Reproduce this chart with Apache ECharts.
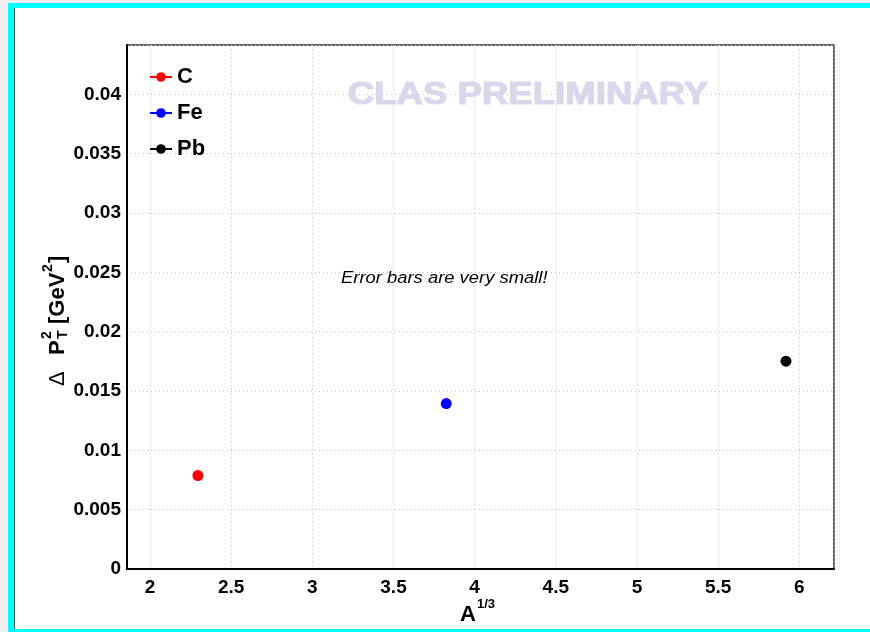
<!DOCTYPE html>
<html>
<head>
<meta charset="utf-8">
<script src="https://cdn.jsdelivr.net/npm/echarts@6/dist/echarts.min.js"></script>
<style>
  html, body { margin: 0; padding: 0; width: 870px; height: 632px; background: #efefef; overflow: hidden; }
  #frame { position: absolute; left: 8px; top: 3px; width: 862px; height: 629px; background: #00ffff; }
  #canvas-bg { position: absolute; left: 6px; top: 5px; right: 0; bottom: 3px; background: #ffffff; border-left: 1px solid #555; }
  #chart { position: absolute; left: 0; top: 0; width: 870px; height: 632px; }
</style>
</head>
<body>
<div id="frame"><div id="canvas-bg"></div></div>
<div id="chart"></div>
<script>
// Nuclear targets and measured transverse-momentum broadening
const targets = ['C', 'Fe', 'Pb'];
const aOneThird = [2.295, 3.825, 5.918];        // A^(1/3)
const deltaPt2 = [0.00788, 0.01394, 0.01751];   // ΔP_T^2 [GeV^2]
const deltaPt2Err = [0.00005, 0.00008, 0.00018];
const targetColors = ['#ff0000', '#0000ff', '#000000'];

const SANS = '"Liberation Sans", Arial, sans-serif';
const chart = echarts.init(document.getElementById('chart'), null, { renderer: 'canvas' });

const pointSeries = targets.map((name, i) => ({
  name: name,
  type: 'line',
  data: [[aOneThird[i], deltaPt2[i]]],
  symbol: 'circle',
  symbolSize: 11,
  showSymbol: true,
  itemStyle: { color: targetColors[i] },
  lineStyle: { color: targetColors[i], width: 2 },
  z: 5
}));

// Vertical error bars (tiny compared with the markers)
const errorSeries = {
  type: 'custom',
  silent: true,
  data: targets.map((_, i) => [aOneThird[i], deltaPt2[i] - deltaPt2Err[i], deltaPt2[i] + deltaPt2Err[i], i]),
  renderItem: function (params, api) {
    const lo = api.coord([api.value(0), api.value(1)]);
    const hi = api.coord([api.value(0), api.value(2)]);
    const c = targetColors[api.value(3)];
    return {
      type: 'line',
      shape: { x1: lo[0], y1: lo[1], x2: hi[0], y2: hi[1] },
      style: { stroke: c, lineWidth: 2 }
    };
  },
  z: 4
};

const txt = (x, y, text, font, extra) => Object.assign({
  type: 'text', x: x, y: y,
  style: { text: text, fill: '#000', font: font, align: 'left', verticalAlign: 'middle' }
}, extra || {});

const option = {
  animation: false,
  backgroundColor: 'transparent',
  grid: {
    left: 127, right: 36, top: 45, bottom: 63,
    show: true, borderColor: '#666', borderWidth: 2, backgroundColor: 'transparent'
  },
  legend: {
    orient: 'vertical',
    left: 149, top: 66, padding: 0,
    itemWidth: 22, itemHeight: 12, itemGap: 14,
    data: targets,
    textStyle: { fontFamily: SANS, fontWeight: 'bold', fontSize: 22, color: '#000', lineHeight: 22 }
  },
  xAxis: {
    type: 'value',
    min: 1.858, max: 6.214,
    splitNumber: 9,
    axisLine: { show: true, lineStyle: { color: '#000', width: 2 } },
    axisTick: { show: false },
    axisLabel: {
      showMinLabel: false, showMaxLabel: false,
      fontFamily: SANS, fontWeight: 'bold', fontSize: 19, color: '#000', margin: 9
    },
    splitLine: { show: true, lineStyle: { color: '#c4c4c4', width: 1, type: [1, 3] } }
  },
  yAxis: {
    type: 'value',
    min: 0, max: 0.04416, interval: 0.005,
    axisLine: { show: true, lineStyle: { color: '#000', width: 2 } },
    axisTick: { show: false },
    axisLabel: {
      showMaxLabel: false,
      fontFamily: SANS, fontWeight: 'bold', fontSize: 19, color: '#000', margin: 6,
      formatter: v => (v === 0 ? '0' : String(+v.toFixed(3)))
    },
    splitLine: { show: true, lineStyle: { color: '#c4c4c4', width: 1, type: [1, 3] } }
  },
  graphic: [
    {
      type: 'text', x: 528, y: 95, z: 1, scaleX: 1.18,
      style: {
        text: 'CLAS PRELIMINARY', fill: '#dcd6ec', stroke: '#dcd6ec', lineWidth: 1.2,
        font: 'bold 31px ' + SANS, align: 'center', verticalAlign: 'middle'
      }
    },
    {
      type: 'text', x: 341, y: 279, scaleX: 1.15,
      style: {
        text: 'Error bars are very small!', fill: '#000',
        font: 'italic 16px ' + SANS, align: 'left', verticalAlign: 'middle'
      }
    },
    // x-axis title: A^{1/3}
    {
      type: 'group', x: 460, y: 615,
      children: [
        txt(0, 0, 'A', 'bold 22px ' + SANS),
        txt(17, -11, '1/3', 'bold 13px ' + SANS)
      ]
    },
    // y-axis title: Δ P_T^2 [GeV^2], reading bottom to top
    {
      type: 'group', x: 66, y: 386, rotation: Math.PI / 2,
      children: [
        txt(0, -8, 'Δ', '22px ' + SANS),
        txt(31, -8, 'P', 'bold 22px ' + SANS),
        txt(47, -19, '2', 'bold 14px ' + SANS),
        txt(47, -3, 'T', 'bold 14px ' + SANS),
        txt(62, -8, '[GeV', 'bold 22px ' + SANS),
        txt(114, -18, '2', 'bold 14px ' + SANS),
        txt(123, -8, ']', 'bold 22px ' + SANS)
      ]
    }
  ],
  series: pointSeries.concat([errorSeries])
};

chart.setOption(option);
</script>
</body>
</html>
